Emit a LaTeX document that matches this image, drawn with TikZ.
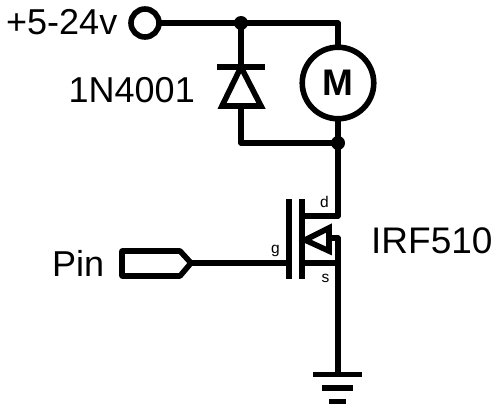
\documentclass[tikz,border=0pt]{standalone}
\usepackage{fontspec}
\setmainfont{Liberation Sans}
\usetikzlibrary{calc}
\tikzset{
  wire/.style={line width=5.6pt,line join=round,line cap=round},
  flatwire/.style={line width=5.6pt,line join=miter,line cap=butt},
  dotnode/.style={circle,fill=black,inner sep=0pt,minimum size=14pt},
  lbl/.style={inner sep=0pt,anchor=base west,font=\fontsize{36}{36}\selectfont},
  pinlbl/.style={inner sep=0pt,anchor=base,font=\fontsize{15.5}{15.5}\selectfont},
  ringnode/.style={circle,draw,line width=5.6pt,inner sep=0pt},
}
\begin{document}
\begin{tikzpicture}[x=1pt,y=-1pt]
\useasboundingbox (0,0) rectangle (492,406);
% labels
\node[lbl] (supply) at (6,35) {+5-24v};
\node[lbl] (diodelbl) at (68.5,103) {1N4001};
\node[lbl] (pinlbl) at (52,276) {Pin};
\node[lbl,font=\fontsize{37}{37}\selectfont] (fetlbl) at (371,253) {IRF510};
\node[pinlbl] (dl) at (324.5,207) {d};
\node[pinlbl] (gl) at (275.5,253) {g};
\node[pinlbl] (sl) at (325.5,282) {s};
% terminal and motor
\node[ringnode,minimum size=28pt] (term) at (145,23) {};
\node[ringnode,minimum size=71.5pt,font=\bfseries\fontsize{37}{37}\selectfont] (motor) at (338,83) {M};
% junctions
\node[dotnode] (jtop) at (241,23) {};
\node[dotnode] (jbot) at (338,143) {};
\coordinate (topr) at (338,23);
\coordinate (botl) at (241,143);
\coordinate (dk) at (241,67);
\coordinate (da) at (241,106);
\coordinate (dbl) at (217,67);
\coordinate (dbr) at (265,67);
\coordinate (tl) at (222,106);
\coordinate (tr) at (261,106);
% wires
\draw[wire] (term.east) -- (jtop.center) -- (topr) -- (motor.north);
\draw[wire] (motor.south) -- (jbot.center) -- (botl) -- (da);
\draw[flatwire] (jtop.center) -- (dk);
\draw[flatwire] (dbl) -- (dbr);
\draw[wire,line join=miter] (dk) -- (tr) -- (tl) -- cycle;
% MOSFET
\coordinate (dtop) at (338,216);
\coordinate (chd) at (302,216);
\coordinate (chs) at (302,263);
\coordinate (gb) at (289,263);
\coordinate (st) at (338,238);
\coordinate (sb) at (338,263);
\coordinate (atip) at (305,240);
\coordinate (a1) at (329,228);
\coordinate (a2) at (329,251);
\coordinate (am) at (329,238);
\coordinate (gnd) at (338,374);
\draw[flatwire] (302,199) -- (302,279);
\draw[flatwire] (289,199) -- (289,279);
\draw[wire] (jbot.center) -- (dtop) -- (chd);
\draw[wire,line join=miter] (atip) -- (a1) -- (a2) -- cycle;
\draw[wire] (am) -- (st) -- (sb) -- (chs);
\draw[flatwire] (sb) -- (gnd);
% ground
\draw[flatwire] (313,374.5) -- (362,374.5);
\draw[flatwire] (322,388) -- (353,388);
\draw[flatwire] (329,401.5) -- (346,401.5);
% pin connector
\coordinate (pintip) at (191,263);
\draw[wire,line join=round] (122,251) -- (180,251) -- (pintip) -- (180,276) -- (122,276) -- cycle;
\draw[flatwire] (pintip) -- (gb);
\end{tikzpicture}
\end{document}
